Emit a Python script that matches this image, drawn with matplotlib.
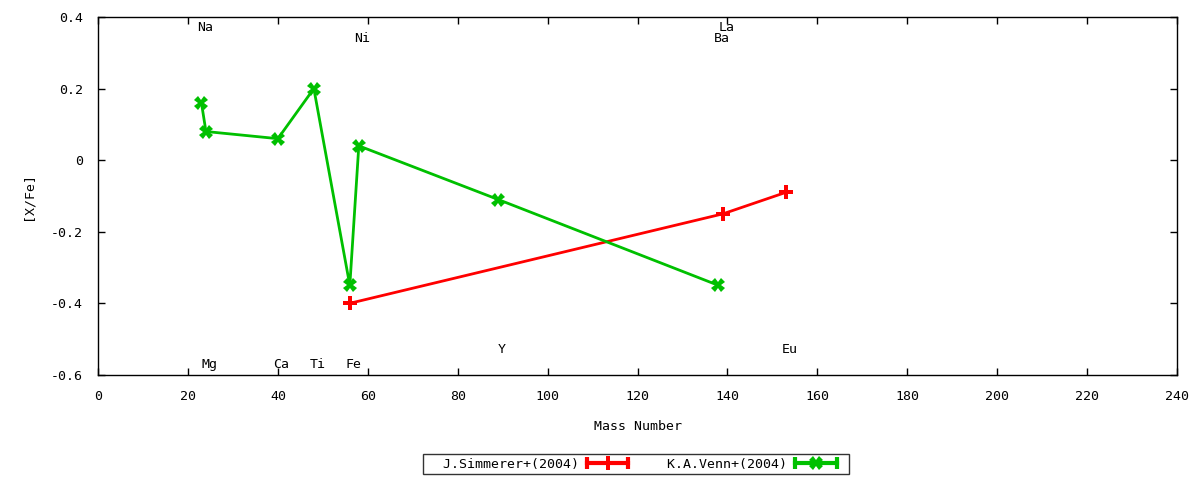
import matplotlib
matplotlib.use("Agg")
import matplotlib.pyplot as plt
from matplotlib.lines import Line2D
from matplotlib.legend_handler import HandlerBase

plt.rcParams['font.family'] = ['DejaVu Sans Mono']
plt.rcParams['font.size'] = 9.5

# J.Simmerer+(2004)
sim_mass = [56, 139, 153]
sim_xfe = [-0.40, -0.15, -0.09]

# K.A.Venn+(2004)
venn_mass = [23, 24, 40, 48, 56, 58, 89, 138]
venn_xfe = [0.16, 0.08, 0.06, 0.20, -0.35, 0.04, -0.11, -0.35]

# element labels
elem_names = ['Na', 'Mg', 'Ca', 'Ti', 'Fe', 'Ni', 'Y', 'Ba', 'La', 'Eu']
elem_mass = [23, 24, 40, 48, 56, 58, 89, 138, 139, 153]
elem_ypos = [0.37, -0.57, -0.57, -0.57, -0.57, 0.34, -0.53, 0.34, 0.37, -0.53]

RED = '#ff0000'
GREEN = '#00c000'


# gnuplot-like key sample: thick line, end caps, point in the middle
class KeySample(HandlerBase):
    def create_artists(self, legend, orig, xd, yd, width, height, fontsize, trans):
        y = height / 2 - yd
        x0, x1 = -xd, width - xd - 6
        c = orig.get_color()
        line = Line2D([x0, x1], [y, y], color=c, lw=3)
        caps = Line2D([x0, x1], [y, y], ls='none', marker='|', ms=9, mew=3, color=c)
        mid = Line2D([(x0 + x1) / 2], [y], ls='none', marker=orig.get_marker(),
                     ms=orig.get_markersize(), mew=0, color=c)
        for a in (line, caps, mid):
            a.set_transform(trans)
        return [line, caps, mid]


fig = plt.figure(figsize=(12, 4.8), dpi=100)
ax = fig.add_axes([0.0817, 0.219, 0.8992, 0.7456])

l1, = ax.plot(sim_mass, sim_xfe, color=RED, lw=2, marker='P', ms=10, mew=0)
l2, = ax.plot(venn_mass, venn_xfe, color=GREEN, lw=2, marker='X', ms=9.5, mew=0)

for name, m, y in zip(elem_names, elem_mass, elem_ypos):
    ax.text(m + 0.8, y, name, ha='center', va='center')

ax.set_xlim(0, 240)
ax.set_ylim(-0.6, 0.4)
ax.set_xticks(range(0, 241, 20))
ax.set_yticks([-0.6, -0.4, -0.2, 0, 0.2, 0.4])
ax.set_yticklabels(['-0.6', '-0.4', '-0.2', '0', '0.2', '0.4'])
ax.tick_params(direction='in', top=True, right=True, length=5, width=1)
ax.tick_params(axis='x', pad=11)
ax.tick_params(axis='y', pad=11)
for s in ax.spines.values():
    s.set_linewidth(1)
ax.set_xlabel('Mass Number', labelpad=12)
ax.set_ylabel('[X/Fe]', labelpad=12)

leg = fig.legend([l1, l2], ['  J.Simmerer+(2004)', '  K.A.Venn+(2004)'],
                 handler_map={Line2D: KeySample()}, ncol=2, loc='center',
                 bbox_to_anchor=(0.53, 0.0333), frameon=True, fancybox=False,
                 edgecolor='black', handlelength=3.8, columnspacing=1.1,
                 borderpad=0.25, markerfirst=False, handletextpad=0.6)
leg.get_frame().set_linewidth(1)

fig.savefig('out.png', dpi=100)
